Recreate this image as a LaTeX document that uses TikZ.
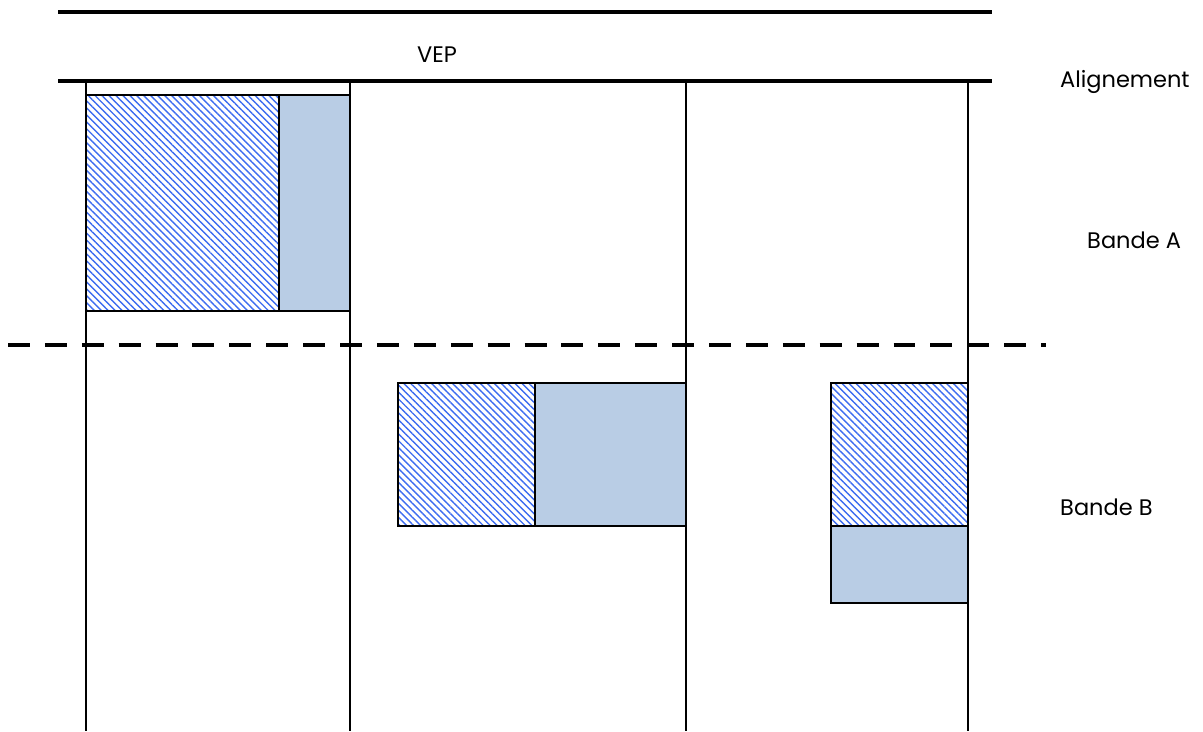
\documentclass[tikz,border=0pt]{standalone}
\usepackage{fontspec}
\setmainfont{Poppins}
\usetikzlibrary{patterns.meta}
\definecolor{boxfill}{HTML}{B9CDE5}
\definecolor{hatchblue}{HTML}{3D6CF0}
\begin{document}
\begin{tikzpicture}
	[x=0.02cm,y=-0.02cm,
	 rule/.style={line width=2.8pt},
	 lot/.style={line width=1.1pt},
	 hatchbox/.style={draw,line width=1.1pt,pattern={Lines[angle=-45,distance=2.8pt,line width=0.8pt]},pattern color=hatchblue},
	 plainbox/.style={draw,line width=1.1pt,fill=boxfill},
	 label/.style={font=\fontsize{12.8}{15}\selectfont,anchor=west}]
    \useasboundingbox (0,0) rectangle (1203,731);
    % bands and alignment
    \draw [rule] (58,12) -- (992,12);
    \draw [rule] (58,81) -- (992,81);
    \draw [line width=2.8pt,dash pattern=on 12.5pt off 8.5pt] (8,345) -- (1046,345);
    \foreach \x in {86,350,686,968}
        \draw [lot] (\x,81) -- (\x,731);
    % buildings
    \draw [hatchbox] (86,95) rectangle (279,311);
    \draw [plainbox] (279,95) rectangle (350,311);
    \draw [hatchbox] (398,383) rectangle (535,526);
    \draw [plainbox] (535,383) rectangle (686,526);
    \draw [hatchbox] (831,383) rectangle (968,526);
    \draw [plainbox] (831,526) rectangle (968,603);
    % labels
    \node (vep) at (437,55) {\fontsize{12.8}{15}\selectfont VEP};
    \node [label] (align) at (1054,82) {Alignement};
    \node [label] (bandeA) at (1081,240) {Bande A};
    \node [label] (bandeB) at (1054,507) {Bande B};
\end{tikzpicture}
\end{document}
